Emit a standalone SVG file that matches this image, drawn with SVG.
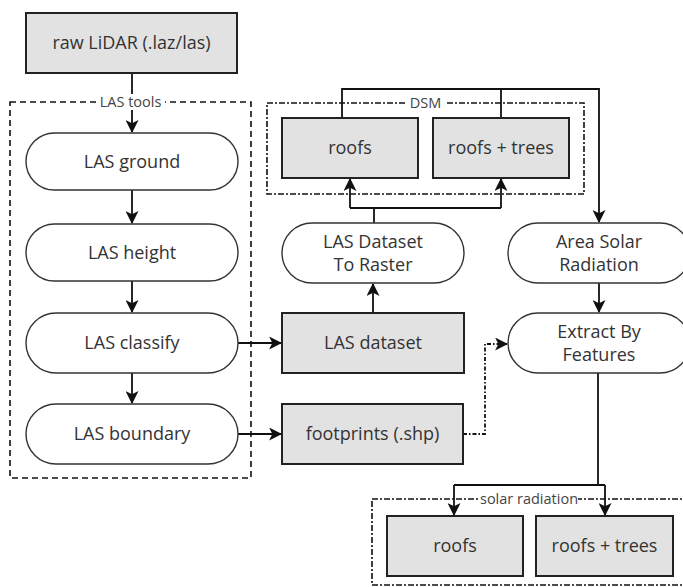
<svg xmlns="http://www.w3.org/2000/svg" width="683" height="587" viewBox="0 0 683 587">
<defs>
<marker id="arr" viewBox="0 0 12 12" refX="11" refY="6" markerWidth="13" markerHeight="13" markerUnits="userSpaceOnUse" orient="auto">
<path d="M0,0 L12,6 L0,12 L3,6 Z" fill="#111"/>
</marker>
<style>
.box{fill:#e2e2e2;stroke:#222;stroke-width:2}
.pill{fill:#fff;stroke:#333;stroke-width:1.4}
.t{font-family:"Open Sans","DejaVu Sans",sans-serif;font-size:18px;fill:#333;text-anchor:middle}
.lbl{font-family:"Open Sans","DejaVu Sans",sans-serif;font-size:14.5px;fill:#444;text-anchor:middle}
.c{fill:none;stroke:#111;stroke-width:1.8}
.grp{fill:none;stroke:#111;stroke-width:1.6}
</style>
</defs>
<rect width="683" height="587" fill="#fff"/>

<g id="groups">
<rect class="grp" x="10" y="102" width="241" height="376" stroke-dasharray="6 4"/>
<rect class="grp" x="267" y="103" width="317" height="91" stroke-dasharray="6 2 2 2"/>
<rect class="grp" x="372" y="499" width="320" height="86" stroke-dasharray="6 2 2 2"/>
</g>

<g id="connectors">
<path class="c" d="M132,73 V132" marker-end="url(#arr)"/>
<path class="c" d="M132,190 V223" marker-end="url(#arr)"/>
<path class="c" d="M132,281 V312" marker-end="url(#arr)"/>
<path class="c" d="M132,373 V403" marker-end="url(#arr)"/>
<path class="c" d="M238,343 H281" marker-end="url(#arr)"/>
<path class="c" d="M238,434 H281" marker-end="url(#arr)"/>
<path class="c" d="M373,313 V284" marker-end="url(#arr)"/>
<path class="c" d="M374,223 V208"/>
<path class="c" d="M350,208 H501"/>
<path class="c" d="M350,208 V179" marker-end="url(#arr)"/>
<path class="c" d="M501,208 V179" marker-end="url(#arr)"/>
<path class="c" d="M342,118 V89 H599 V222" marker-end="url(#arr)"/>
<path class="c" d="M501,118 V89"/>
<path class="c" d="M599,283 V312" marker-end="url(#arr)"/>
<path class="c" d="M598,373 V485"/>
<path class="c" d="M454,485 H605"/>
<path class="c" d="M454,485 V515" marker-end="url(#arr)"/>
<path class="c" d="M605,485 V515" marker-end="url(#arr)"/>
<path class="c" d="M463,434 H485 V344 H507" stroke-dasharray="4 2 1.5 2" marker-end="url(#arr)"/>
</g>

<g id="group-labels">
<rect x="96" y="94" width="69" height="16" fill="#fff"/>
<text class="lbl" x="130.5" y="107">LAS tools</text>
<rect x="405" y="95" width="42" height="16" fill="#fff"/>
<text class="lbl" x="425.5" y="108">DSM</text>
<rect x="480" y="491" width="98" height="16" fill="#fff"/>
<text class="lbl" x="529" y="504">solar radiation</text>
</g>

<g id="raw-lidar"><rect class="box" x="26" y="13" width="211" height="60"/><text class="t" x="131.5" y="49">raw LiDAR (.laz/las)</text></g>
<g id="las-ground"><rect class="pill" x="26" y="133" width="212" height="57" rx="28.5"/><text class="t" x="132" y="168">LAS ground</text></g>
<g id="las-height"><rect class="pill" x="26" y="224" width="212" height="57" rx="28.5"/><text class="t" x="132" y="259">LAS height</text></g>
<g id="las-classify"><rect class="pill" x="26" y="313" width="212" height="60" rx="30"/><text class="t" x="132" y="349">LAS classify</text></g>
<g id="las-boundary"><rect class="pill" x="26" y="404" width="212" height="60" rx="30"/><text class="t" x="132" y="440">LAS boundary</text></g>

<g id="dsm-roofs"><rect class="box" x="282" y="118" width="136" height="60"/><text class="t" x="350" y="154">roofs</text></g>
<g id="dsm-roofs-trees"><rect class="box" x="433" y="118" width="136" height="60"/><text class="t" x="501" y="154">roofs + trees</text></g>

<g id="las-dataset-to-raster"><rect class="pill" x="282" y="223" width="182" height="60" rx="30"/><text class="t" x="373" y="248">LAS Dataset</text><text class="t" x="373" y="271">To Raster</text></g>
<g id="las-dataset"><rect class="box" x="282" y="313" width="182" height="60"/><text class="t" x="373" y="349">LAS dataset</text></g>
<g id="footprints"><rect class="box" x="282" y="404" width="181" height="60"/><text class="t" x="372.5" y="440">footprints (.shp)</text></g>

<g id="area-solar-radiation"><rect class="pill" x="508" y="223" width="182" height="60" rx="30"/><text class="t" x="599" y="248">Area Solar</text><text class="t" x="599" y="271">Radiation</text></g>
<g id="extract-by-features"><rect class="pill" x="508" y="313" width="182" height="60" rx="30"/><text class="t" x="599" y="338">Extract By</text><text class="t" x="599" y="361">Features</text></g>

<g id="sr-roofs"><rect class="box" x="387" y="516" width="136" height="60"/><text class="t" x="455" y="552">roofs</text></g>
<g id="sr-roofs-trees"><rect class="box" x="536" y="516" width="137" height="60"/><text class="t" x="604.5" y="552">roofs + trees</text></g>
</svg>
